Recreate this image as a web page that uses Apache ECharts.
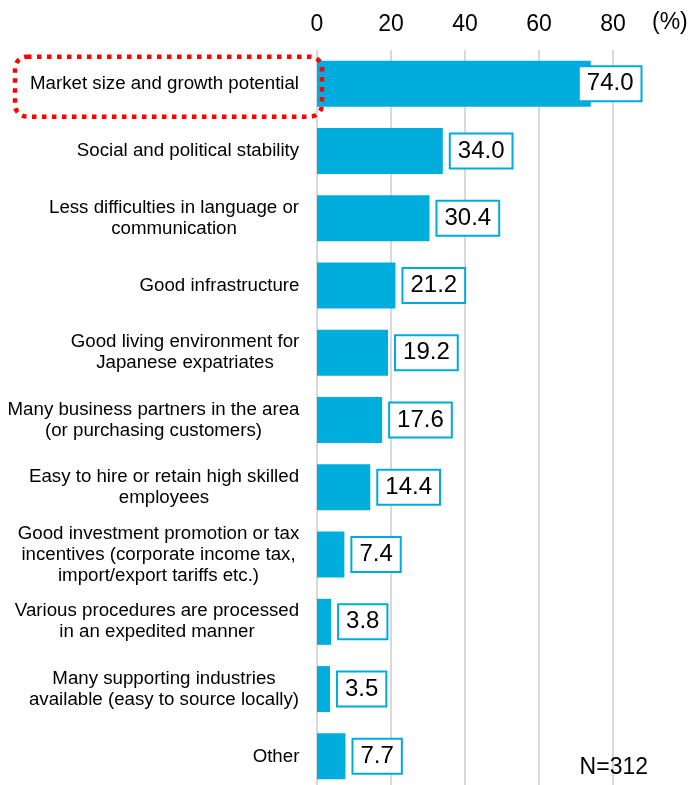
<!DOCTYPE html>
<html>
<head>
<meta charset="utf-8">
<script src="https://cdn.jsdelivr.net/npm/echarts@6/dist/echarts.min.js"></script>
<style>
  html, body { margin: 0; padding: 0; background: #fff; }
  #chart { width: 692px; height: 785px; }
</style>
</head>
<body>
<div id="chart"></div>
<script>
const categories = [
  'Market size and growth potential',
  'Social and political stability',
  'Less difficulties in language or\ncommunication',
  'Good infrastructure',
  'Good living environment for\nJapanese expatriates',
  'Many business partners in the area\n(or purchasing customers)',
  'Easy to hire or retain high skilled\nemployees',
  'Good investment promotion or tax\nincentives (corporate income tax,\nimport/export tariffs etc.)',
  'Various procedures are processed\nin an expedited manner',
  'Many supporting industries\navailable (easy to source locally)',
  'Other'
]
const values = [74.0, 34.0, 30.4, 21.2, 19.2, 17.6, 14.4, 7.4, 3.8, 3.5, 7.7]
const xTicks = [0, 20, 40, 60, 80]
const unitLabel = '(%)'
const sampleNote = 'N=312'

const font = '"Liberation Sans", Arial, sans-serif'
const barColor = '#00ADDC'
const catSize = 18.7

// measure each label so its lines can be centred against each other
const ctx = document.createElement('canvas').getContext('2d')
ctx.font = catSize + 'px "Liberation Sans"'
const rich = {}
categories.forEach((c, i) => {
  const w = Math.max(...c.split('\n').map(l => ctx.measureText(l).width))
  rich['c' + i] = {
    width: Math.ceil(w) + 1,
    align: 'center',
    fontSize: catSize,
    lineHeight: 21,
    fontFamily: font,
    color: '#000'
  }
})

const chart = echarts.init(document.getElementById('chart'))

chart.setOption({
  animation: false,
  grid: { left: 317, top: 50, width: 296, height: 740, outerBoundsMode: 'none' },
  xAxis: {
    type: 'value',
    position: 'top',
    min: xTicks[0],
    max: xTicks[xTicks.length - 1],
    interval: xTicks[1] - xTicks[0],
    axisLine: { show: false },
    axisTick: { show: false },
    axisLabel: { fontSize: 23, fontFamily: font, color: '#000', margin: 14 },
    splitLine: { lineStyle: { color: '#D9D9D9', width: 2 } }
  },
  yAxis: {
    type: 'category',
    inverse: true,
    data: categories,
    axisLine: { show: false },
    axisTick: { show: false },
    axisLabel: {
      margin: 17,
      formatter: (v, i) => v.split('\n').map(l => `{c${i}|${l}}`).join('\n'),
      rich: rich
    }
  },
  series: [{
    type: 'bar',
    barWidth: 46,
    itemStyle: { color: barColor },
    data: values.map((v, i) => i === 0 ? { value: v, label: { offset: [-19, 0] } } : v),
    label: {
      show: true,
      position: 'right',
      distance: 8,
      formatter: p => p.value.toFixed(1),
      fontSize: 24,
      fontFamily: font,
      color: '#000',
      backgroundColor: '#fff',
      borderColor: '#00AADD',
      borderWidth: 2,
      padding: [5, 7, 3, 7],
      lineHeight: 25
    }
  }]
})

// annotations placed relative to the axes
const x0 = chart.convertToPixel({ xAxisIndex: 0 }, xTicks[0])
const xEnd = chart.convertToPixel({ xAxisIndex: 0 }, xTicks[xTicks.length - 1])
const y0 = chart.convertToPixel({ yAxisIndex: 0 }, 0)
const yLast = chart.convertToPixel({ yAxisIndex: 0 }, categories.length - 1)

chart.setOption({
  graphic: [
    {
      type: 'rect',
      shape: { x: 15, y: y0 - 27, width: x0 + 5 - 15, height: 60, r: 12 },
      style: { fill: 'none', stroke: '#FF0000', lineWidth: 4.5, lineDash: [4.5, 5.5] },
      z: 100
    },
    {
      type: 'text',
      x: xEnd + 39,
      y: 23,
      style: { text: unitLabel, font: '23px ' + font, fill: '#000', verticalAlign: 'middle' }
    },
    {
      type: 'text',
      x: 648,
      y: yLast + 11,
      style: { text: sampleNote, font: '23px ' + font, fill: '#000', align: 'right', verticalAlign: 'middle' }
    }
  ]
})
</script>
</body>
</html>
